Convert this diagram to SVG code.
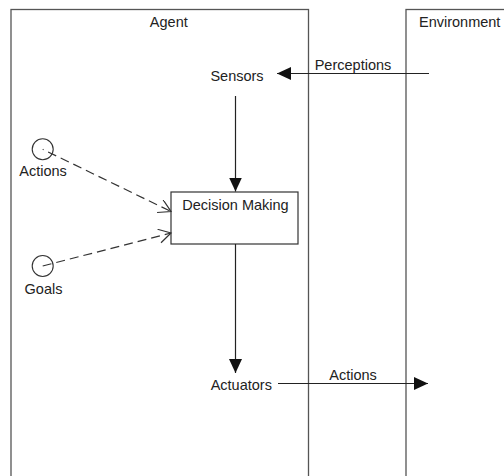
<svg xmlns="http://www.w3.org/2000/svg" width="504" height="476" viewBox="0 0 504 476">
<style>
  .frame { fill: #ffffff; stroke: #555555; stroke-width: 1.3; }
  .box { fill: #ffffff; stroke: #333333; stroke-width: 1.2; }
  .ball { fill: #ffffff; stroke: #333333; stroke-width: 1.1; }
  .lbl { font-family: "Liberation Sans", Arial, sans-serif; font-size: 14.5px; fill: #222222; }
  .mid { text-anchor: middle; }
  .solid { fill: none; stroke: #222222; stroke-width: 1.2; }
  .dash { fill: none; stroke: #333333; stroke-width: 1.2; stroke-dasharray: 9 5; }
</style>
<defs>
  <marker id="filled" markerUnits="userSpaceOnUse" markerWidth="16" markerHeight="16" refX="14" refY="6.5" orient="auto">
    <path d="M0,0 L14,6.5 L0,13 z" fill="#111111"/>
  </marker>
  <marker id="open" markerUnits="userSpaceOnUse" markerWidth="18" markerHeight="18" refX="14" refY="7" orient="auto">
    <path d="M1.9,0 L14,7 L1.9,14" fill="none" stroke="#333333" stroke-width="1.2"/>
  </marker>
</defs>
<rect width="504" height="476" fill="#ffffff"/>

<g id="agent">
  <rect class="frame" x="11" y="9.5" width="297.5" height="480"/>
  <text class="lbl mid" x="168.8" y="27.3">Agent</text>
</g>
<g id="environment">
  <rect class="frame" x="406" y="9.5" width="120" height="480"/>
  <text class="lbl" x="419" y="27.3">Environment</text>
</g>
<g id="sensors">
  <text class="lbl mid" x="237" y="81">Sensors</text>
</g>
<g id="decision-making">
  <rect class="box" x="171" y="192" width="127" height="52"/>
  <text class="lbl mid" x="235.5" y="210">Decision Making</text>
</g>
<g id="actuators">
  <text class="lbl mid" x="241.3" y="390">Actuators</text>
</g>
<g id="actions-item">
  <circle class="ball" cx="42.7" cy="149.3" r="10.5"/>
  <text class="lbl mid" x="43" y="176">Actions</text>
</g>
<g id="goals-item">
  <circle class="ball" cx="42.7" cy="266" r="10.5"/>
  <text class="lbl mid" x="43.5" y="294">Goals</text>
</g>

<g id="connectors">
  <line class="solid" x1="429" y1="73.5" x2="277" y2="73.5" marker-end="url(#filled)"/>
  <text class="lbl mid" x="353" y="69.5">Perceptions</text>
  <line class="solid" x1="235.5" y1="96" x2="235.5" y2="191.5" marker-end="url(#filled)"/>
  <line class="solid" x1="235.5" y1="244" x2="235.5" y2="373" marker-end="url(#filled)"/>
  <line class="solid" x1="278" y1="383.5" x2="428" y2="383.5" marker-end="url(#filled)"/>
  <text class="lbl mid" x="353" y="380">Actions</text>
  <line class="dash" x1="42.7" y1="149.3" x2="171" y2="211.5" stroke-dashoffset="8" marker-end="url(#open)"/>
  <line class="dash" x1="42.7" y1="266" x2="171" y2="233" marker-end="url(#open)"/>
</g>
</svg>
